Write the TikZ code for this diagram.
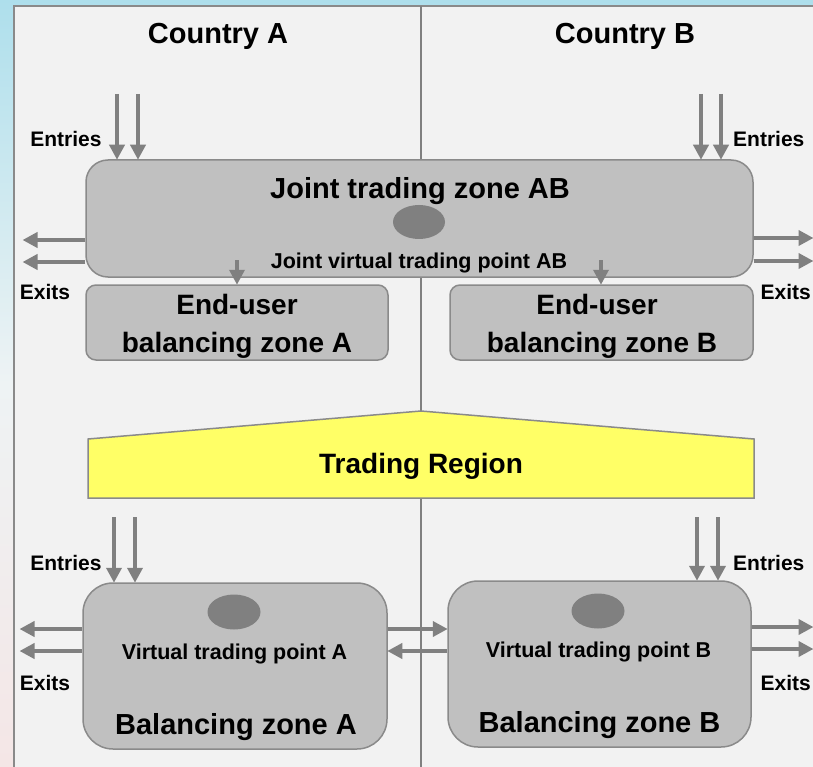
\documentclass[tikz,border=0pt]{standalone}
\usepackage{fontspec}
\setmainfont{Liberation Sans}
\usetikzlibrary{arrows.meta,shapes.geometric}
\definecolor{panel}{HTML}{F2F2F2}
\definecolor{boxfill}{HTML}{C0C0C0}
\definecolor{boxline}{HTML}{8A8A8A}
\definecolor{arrowgray}{HTML}{808080}
\definecolor{yell}{HTML}{FFFF66}
\definecolor{bgtop}{HTML}{AEDFEC}
\definecolor{bgmid}{HTML}{EEF3F4}
\definecolor{bgbot}{HTML}{F4E6E6}
\begin{document}
\begin{tikzpicture}[x=1pt,y=-1pt,
  zone/.style={draw=boxline, line width=1.5pt, fill=boxfill, rounded corners=#1, inner sep=0pt},
  vtp/.style={ellipse, fill=arrowgray, inner sep=0pt, minimum width=53pt, minimum height=35pt},
  arr/.style={draw=arrowgray, line width=4.5pt, -{Triangle[width=15pt,length=15pt]}, shorten >=-0.5pt},
  bigtxt/.style={font=\bfseries\fontsize{29}{33}\selectfont, anchor=base, inner sep=0pt},
  midtxt/.style={font=\bfseries\fontsize{28}{32}\selectfont, anchor=base, inner sep=0pt},
  vtxt/.style={font=\bfseries\fontsize{21.5}{25}\selectfont, anchor=base, inner sep=0pt},
  lbl/.style={font=\bfseries\fontsize{21}{25}\selectfont, anchor=base, inner sep=0pt}
]
\useasboundingbox (0,0) rectangle (813,767);
\clip (0,0) rectangle (813,767);
% background
\shade[top color=bgtop, bottom color=bgbot, middle color=bgmid] (0,0) rectangle (813,767);
% panel
\draw[draw=boxline, line width=1.5pt, fill=panel] (14,6) rectangle (840,800);
% divider
\draw[draw=arrowgray, line width=1.5pt] (421,6) -- (421,412);
\draw[draw=arrowgray, line width=1.5pt] (421,498) -- (421,780);

% titles
\node[bigtxt] (ca) at (218,44) {Country A};
\node[bigtxt] (cb) at (625,44) {Country B};

% joint trading zone
\node[zone=22pt, minimum width=667pt, minimum height=117pt] (joint) at (419.5,218.5) {};
\node[bigtxt] (jtxt) at (420,199) {Joint trading zone AB};
\node[vtp, minimum width=52pt, minimum height=34pt] (jvtp) at (419,222) {};
\node[vtxt] (jvtxt) at (419,269) {Joint virtual trading point AB};

% end-user zones
\node[zone=10pt, minimum width=302pt, minimum height=75pt] (eua) at (237,322.5) {};
\node[midtxt] (eua1) at (237,314) {End-user};
\node[midtxt] (eua2) at (237,352) {balancing zone A};
\node[zone=10pt, minimum width=303pt, minimum height=75pt] (eub) at (601.5,322.5) {};
\node[midtxt] (eub1) at (597,314) {End-user};
\node[midtxt] (eub2) at (602,352) {balancing zone B};

% trading region
\draw[draw=boxline, line width=1.5pt, fill=yell] (88,439) -- (421,411) -- (754,439) -- (754,498) -- (88,498) -- cycle;
\node[midtxt] (tr) at (421,473) {Trading Region};

% balancing zones
\node[zone=30pt, minimum width=304pt, minimum height=166pt] (bza) at (235,666) {};
\node[vtp] (vtpa) at (234,612) {};
\node[vtxt] (vtxa) at (234.5,659) {Virtual trading point A};
\node[bigtxt] (bzat) at (236,734) {Balancing zone A};
\node[zone=30pt, minimum width=303pt, minimum height=166pt] (bzb) at (599.5,664) {};
\node[vtp] (vtpb) at (598,611) {};
\node[vtxt] (vtxb) at (598.5,657) {Virtual trading point B};
\node[bigtxt] (bzbt) at (599.5,732) {Balancing zone B};

% labels
\node[lbl] (en1) at (66,147) {Entries};
\node[lbl, anchor=base west] (en2) at (733,147) {Entries};
\node[lbl] (ex1) at (45,299) {Exits};
\node[lbl, anchor=base east] (ex2) at (811,299) {Exits};
\node[lbl] (en3) at (66,570) {Entries};
\node[lbl, anchor=base west] (en4) at (733,570) {Entries};
\node[lbl] (ex3) at (45,690) {Exits};
\node[lbl, anchor=base east] (ex4) at (811,690) {Exits};

% arrow start/end coordinates
\coordinate (t1) at (117,94);
\coordinate (t2) at (138,94);
\coordinate (t3) at (701,94);
\coordinate (t4) at (721,94);
\coordinate (b1) at (114,517);
\coordinate (b2) at (135,517);
\coordinate (b3) at (697,517);
\coordinate (b4) at (718,517);
\coordinate (xl1) at (23,240);
\coordinate (xl2) at (23,262);
\coordinate (xr1) at (813,238);
\coordinate (xr2) at (813,261);
\coordinate (yl1) at (20,629);
\coordinate (yl2) at (20,651);
\coordinate (yr1) at (813,627);
\coordinate (yr2) at (813,649);

% entries
\draw[arr] (t1) -- (t1 |- joint.north);
\draw[arr] (t2) -- (t2 |- joint.north);
\draw[arr] (t3) -- (t3 |- joint.north);
\draw[arr] (t4) -- (t4 |- joint.north);
\draw[arr] (b1) -- (b1 |- bza.north);
\draw[arr] (b2) -- (b2 |- bza.north);
\draw[arr] (b3) -- (b3 |- bzb.north);
\draw[arr] (b4) -- (b4 |- bzb.north);
% exits
\draw[arr] (joint.west |- xl1) -- (xl1);
\draw[arr] (joint.west |- xl2) -- (xl2);
\draw[arr] (joint.east |- xr1) -- (xr1);
\draw[arr] (joint.east |- xr2) -- (xr2);
\draw[arr] (bza.west |- yl1) -- (yl1);
\draw[arr] (bza.west |- yl2) -- (yl2);
\draw[arr] (bzb.east |- yr1) -- (yr1);
\draw[arr] (bzb.east |- yr2) -- (yr2);
% joint to end-user
\coordinate (ja) at (237,260);
\coordinate (jb) at (601,260);
\draw[arr, line width=3.5pt] (ja) -- (ja |- eua.north);
\draw[arr, line width=3.5pt] (jb) -- (jb |- eub.north);
% between balancing zones
\draw[arr] (bza.east |- 0,629) -- (bzb.west |- 0,629);
\draw[arr] (bzb.west |- 0,651) -- (bza.east |- 0,651);
\end{tikzpicture}
\end{document}
